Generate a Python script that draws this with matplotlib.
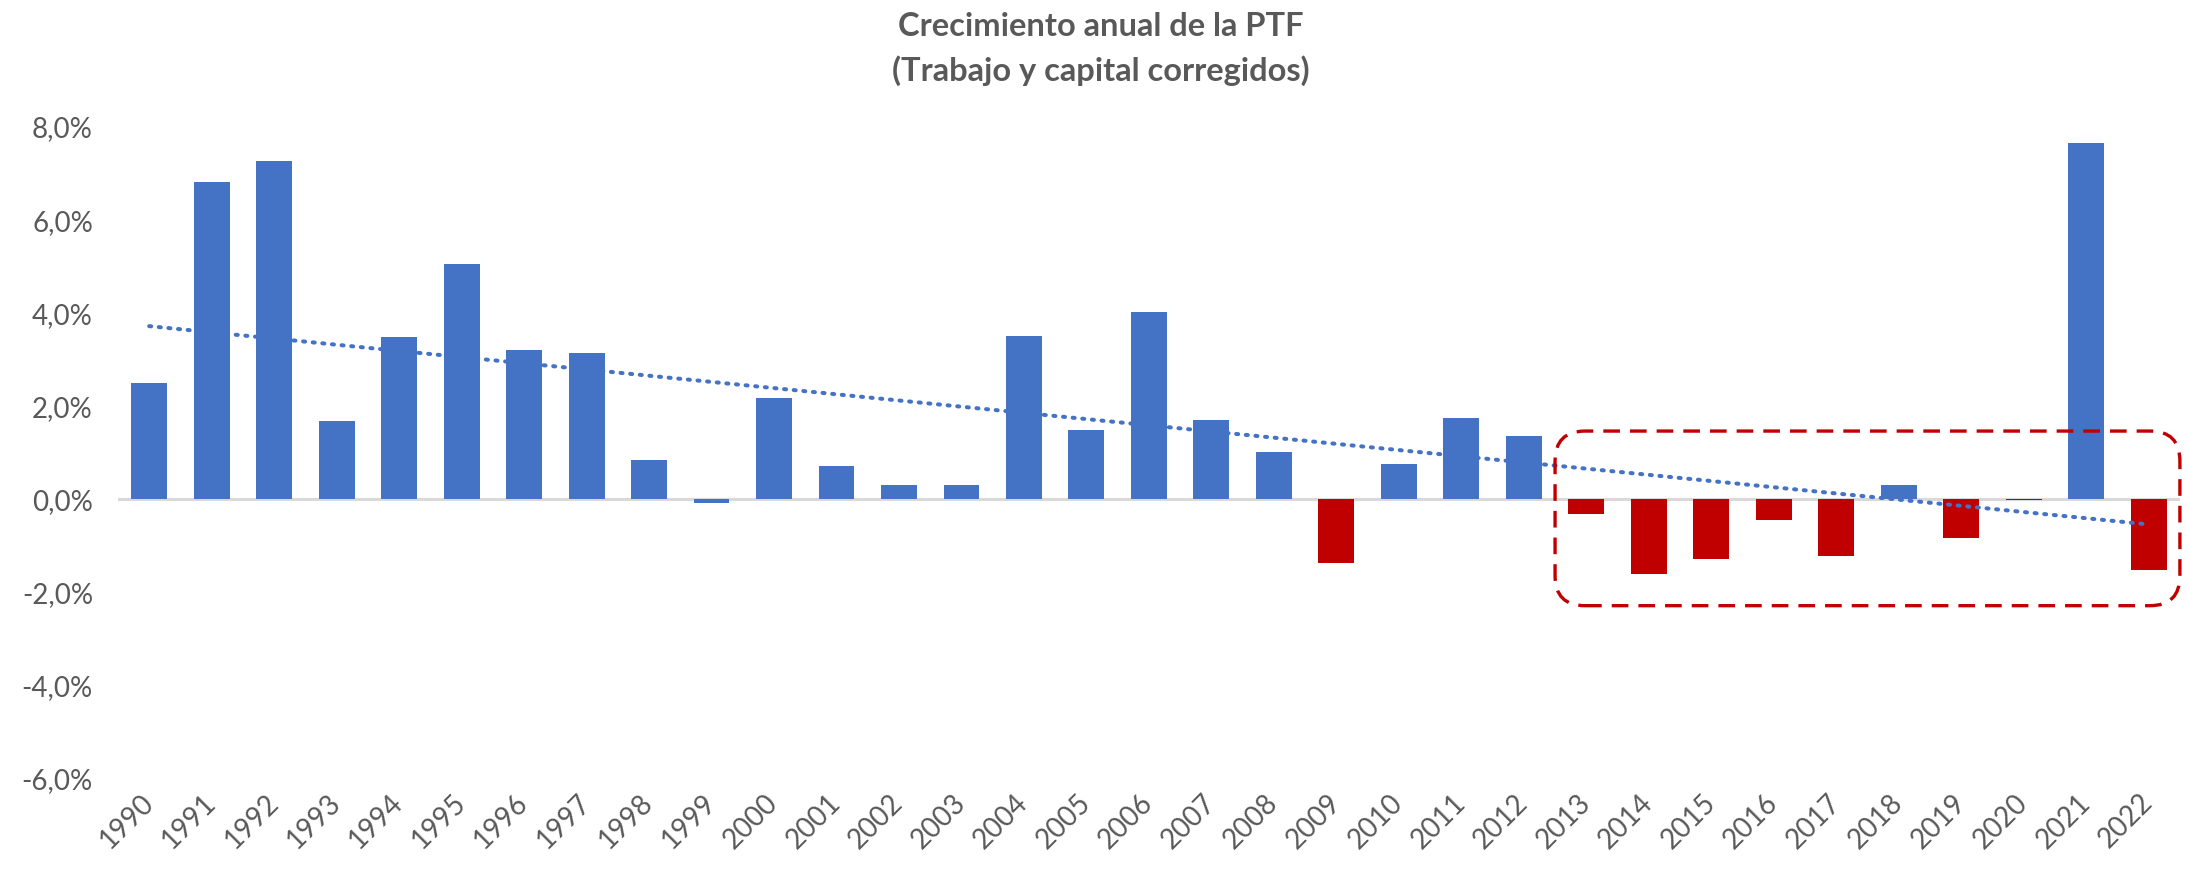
import numpy as np
import matplotlib
matplotlib.use("Agg")
import matplotlib.pyplot as plt
from matplotlib.patches import FancyBboxPatch

plt.rcParams['font.family'] = ['Lato', 'DejaVu Sans']

# ---- data ----
years = [str(y) for y in range(1990, 2023)]
ptf_growth = [2.48, 6.80, 7.25, 1.67, 3.48, 5.03, 3.18, 3.12, 0.83, -0.10,
              2.17, 0.70, 0.30, 0.30, 3.50, 1.47, 4.00, 1.68, 1.00, -1.38,
              0.75, 1.74, 1.35, -0.33, -1.62, -1.29, -0.45, -1.23, 0.30, -0.84,
              -0.03, 7.64, -1.53]
red_years = ['2009', '2013', '2014', '2015', '2016', '2017', '2019', '2020', '2022']
y_ticks = [-6, -4, -2, 0, 2, 4, 6, 8]
y_tick_labels = ['-6,0%', '-4,0%', '-2,0%', '0,0%', '2,0%', '4,0%', '6,0%', '8,0%']
title_lines = ['Crecimiento anual de la PTF', '(Trabajo y capital corregidos)']
highlight_first, highlight_last = '2013', '2022'
highlight_ylim = (-2.3, 1.45)

BLUE = '#4472C4'
RED = '#C00000'
GRAY = '#595959'

fig = plt.figure(figsize=(21.88, 8.70), dpi=100)
ax = fig.add_axes([0.0539, 0.1046, 0.9424, 0.7494])

x = np.arange(len(years))
vals = np.array(ptf_growth)
colors = [RED if y in red_years else BLUE for y in years]
ax.bar(x, vals, width=0.575, color=colors, edgecolor='none', zorder=2)

# zero line
ax.axhline(0, color='#D9D9D9', lw=2.2, zorder=1)

# linear trend (as Excel trendline)
coef = np.polyfit(x, vals, 1)
trend = np.polyval(coef, x)
ax.plot(x, trend, color=BLUE, lw=2.9, linestyle=(0, (0.5, 1.9)),
        dash_capstyle='round', zorder=3)

ax.set_xlim(-0.5, len(years) - 0.5)
ax.set_ylim(y_ticks[0], y_ticks[-1])
ax.set_yticks(y_ticks)
ax.set_yticklabels(y_tick_labels, fontsize=20, color=GRAY)
ax.set_xticks(x)
ax.set_xticklabels(years, fontsize=20, color=GRAY, rotation=45,
                   ha='right', va='center', rotation_mode='anchor')
ax.tick_params(axis='y', length=0, pad=18)
ax.tick_params(axis='x', length=0, pad=14)
for s in ax.spines.values():
    s.set_visible(False)

# highlight rectangle (rounded, dashed)
i0 = years.index(highlight_first) - 0.5
i1 = years.index(highlight_last) + 0.5
fig.canvas.draw()
px_per_x = ax.transData.transform((1, 0))[0] - ax.transData.transform((0, 0))[0]
px_per_y = ax.transData.transform((0, 1))[1] - ax.transData.transform((0, 0))[1]
rx = 30 / px_per_x
box = FancyBboxPatch((i0, highlight_ylim[0]), i1 - i0, highlight_ylim[1] - highlight_ylim[0],
                     boxstyle=f"round,pad=0,rounding_size={rx}",
                     mutation_aspect=px_per_x / px_per_y,
                     fill=False, edgecolor=RED, lw=2.4, linestyle=(0, (5, 3)),
                     zorder=4, clip_on=False)
ax.add_patch(box)

fig.text(0.503, 0.970, title_lines[0], ha='center', va='center',
         fontsize=23.5, fontweight='bold', color=GRAY)
fig.text(0.503, 0.919, title_lines[1], ha='center', va='center',
         fontsize=23.5, fontweight='bold', color=GRAY)

fig.savefig('out.png', dpi=100)
